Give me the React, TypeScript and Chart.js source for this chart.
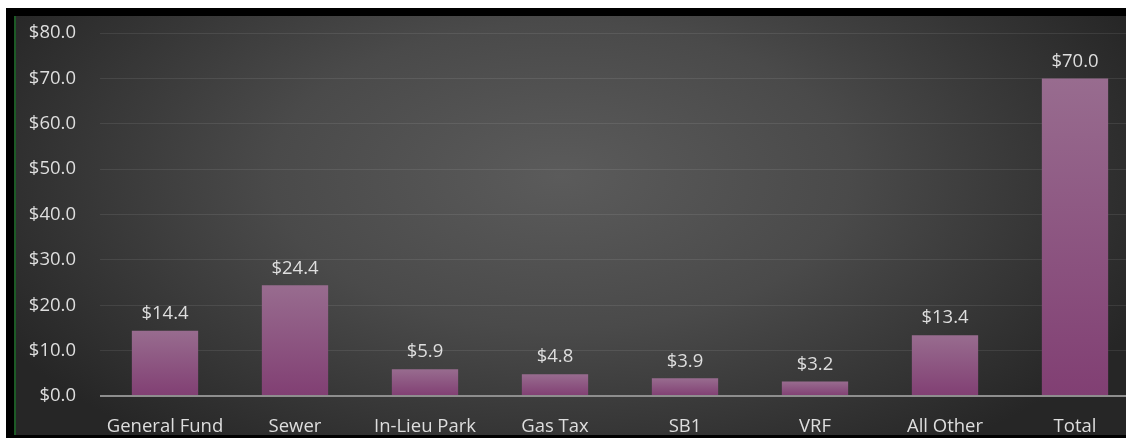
import React, { useEffect, useRef } from "react";
import { Chart, registerables } from "chart.js";

Chart.register(...registerables);

const categories = ["General Fund", "Sewer", "In-Lieu Park", "Gas Tax", "SB1", "VRF", "All Other", "Total"];
const values = [14.4, 24.4, 5.9, 4.8, 3.9, 3.2, 13.4, 70.0];
const yMin = 0;
const yMax = 80;
const yStep = 10;

const FONT = "'Open Sans', 'Noto Sans', sans-serif";
const TEXT = "#dedede";
const FS = 18.5;

const bgPlugin = {
  id: "bgRadial",
  beforeDraw(chart: any) {
    const { ctx, width, height } = chart;
    ctx.save();
    const cx = 545;
    const cy = 160;
    const rx = 640;
    const ry = 340;
    const k = ry / rx;
    ctx.translate(cx, cy);
    ctx.scale(1, k);
    const g = ctx.createRadialGradient(0, 0, 0, 0, 0, rx);
    g.addColorStop(0, "#5b5b5b");
    g.addColorStop(0.45, "#4a4a4a");
    g.addColorStop(1, "#262626");
    ctx.fillStyle = g;
    ctx.fillRect(-cx, -cy / k, width, height / k + 10);
    ctx.restore();
  },
};

const labelPlugin = {
  id: "valueLabels",
  afterDatasetsDraw(chart: any) {
    const { ctx } = chart;
    const meta = chart.getDatasetMeta(0);
    ctx.save();
    ctx.font = `${FS}px ${FONT}`;
    ctx.fillStyle = TEXT;
    ctx.textAlign = "center";
    ctx.textBaseline = "middle";
    meta.data.forEach((el: any, i: number) => {
      const v = chart.data.datasets[0].data[i] as number;
      ctx.fillText("$" + v.toFixed(1), el.x, el.y - 17);
    });
    ctx.restore();
  },
};

function ChartView() {
  const ref = useRef<HTMLCanvasElement>(null);
  useEffect(() => {
    if (!ref.current) return;
    const chart = new Chart(ref.current, {
      type: "bar",
      data: {
        labels: categories,
        datasets: [
          {
            data: values,
            backgroundColor: (c: any) => {
              const ch = c.chart;
              const ys = ch.scales && ch.scales.y;
              if (!ys || c.raw === undefined) return "#8a5a80";
              const top = ys.getPixelForValue(c.raw as number);
              const base = ys.getPixelForValue(0);
              if (!isFinite(top) || !isFinite(base) || top === base) return "#8a5a80";
              const g = ch.ctx.createLinearGradient(0, top, 0, base);
              g.addColorStop(0, "#986c8f");
              g.addColorStop(1, "#813f73");
              return g;
            },
            borderWidth: 0,
            barPercentage: 0.51,
            categoryPercentage: 1,
          },
        ],
      },
      options: {
        responsive: false,
        animation: false,
        maintainAspectRatio: false,
        layout: { padding: { top: 17, right: 0, left: 0, bottom: 0 } },
        plugins: { legend: { display: false }, tooltip: { enabled: false }, title: { display: false } },
        scales: {
          x: {
            grid: { display: false },
            border: { display: false },
            ticks: {
              color: TEXT,
              font: { family: FONT, size: FS },
              padding: 12,
              maxRotation: 0,
              autoSkip: false,
            },
            afterFit(s: any) {
              s.height = 39;
              s.paddingLeft = 0;
              s.paddingRight = 0;
            },
          },
          y: {
            min: yMin,
            max: yMax,
            border: { display: false },
            grid: {
              drawTicks: false,
              color: (c: any) => (c.tick && c.tick.value === 0 ? "#8e8e8e" : "rgba(255,255,255,0.085)"),
              lineWidth: (c: any) => (c.tick && c.tick.value === 0 ? 2 : 1),
            },
            ticks: {
              stepSize: yStep,
              color: TEXT,
              font: { family: FONT, size: FS },
              padding: 24,
              callback: (v: any) => "$" + Number(v).toFixed(1),
            },
            afterFit(s: any) {
              s.width = 84;
              s.paddingTop = 0;
              s.paddingBottom = 0;
            },
          },
        },
      },
      plugins: [bgPlugin, labelPlugin],
    });
    return () => chart.destroy();
  }, []);
  return <canvas ref={ref} width={1124} height={419} style={{ display: "block", width: 1124, height: 419 }} />;
}

export default function App() {
  return (
    <div
      style={{
        position: "fixed",
        left: 0,
        top: 0,
        width: 1126,
        height: 439,
        overflow: "hidden",
        background: "#ffffff",
      }}
    >
      <div
        style={{
          position: "absolute",
          left: 6,
          top: 8,
          width: 1200,
          height: 430,
          background: "#000000",
        }}
      />
      <div
        style={{
          position: "absolute",
          left: 14,
          top: 16,
          width: 2,
          height: 419,
          background: "#1d5a26",
        }}
      />
      <div style={{ position: "absolute", left: 16, top: 16 }}>
        <ChartView />
      </div>
    </div>
  );
}
